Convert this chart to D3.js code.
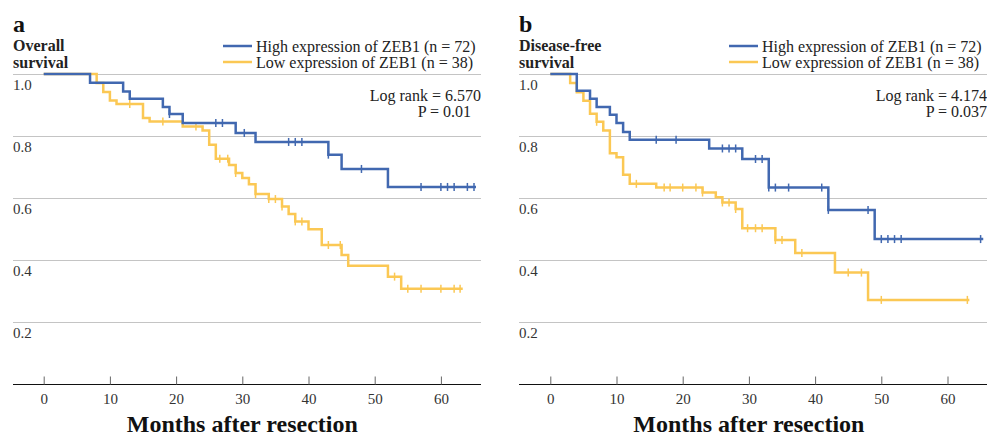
<!DOCTYPE html>
<html>
<head>
<meta charset="utf-8">
<script src="https://cdn.jsdelivr.net/npm/d3@7"></script>
<style>
  html, body { margin: 0; padding: 0; background: #fff; }
  svg { display: block; font-family: "Liberation Serif", "Times New Roman", serif; }
</style>
</head>
<body>
<svg id="chart" width="987" height="438"></svg>
<script>
// --- data ---
var timeTicks = [0, 10, 20, 30, 40, 50, 60];
var survTicks = [0.2, 0.4, 0.6, 0.8, 1.0];
var seriesNames = ["High expression of ZEB1 (n = 72)", "Low expression of ZEB1 (n = 38)"];

// Overall survival: [month, survival after drop]
var osHighSteps = [[7, 0.972], [12, 0.944], [13, 0.92], [18, 0.894], [19, 0.871], [21, 0.842],
  [29, 0.81], [32, 0.781], [43, 0.74], [45, 0.694], [52, 0.636]];
var osHighCensor = [19, 26, 27, 30.3, 37, 38, 39, 43, 48, 57, 60, 61, 62, 64, 65];
var osHighEnd = 65.3;

var osLowSteps = [[8, 0.971], [9, 0.942], [10, 0.915], [11, 0.903], [15, 0.858], [16, 0.847],
  [21, 0.831], [24, 0.818], [25, 0.772], [26, 0.727], [28, 0.707], [29, 0.681], [30, 0.665],
  [31, 0.645], [32, 0.613], [34, 0.597], [36, 0.573], [37, 0.549], [38, 0.525], [40, 0.5],
  [42, 0.449], [45, 0.417], [46, 0.382], [52, 0.347], [54, 0.308]];
var osLowCensor = [13, 18, 23, 26.6, 27.8, 29, 32, 34, 35, 36, 38, 39, 43, 44.8, 53, 55, 57, 60, 62, 62.9];
var osLowEnd = 63.3;

// Disease-free survival
var dfsHighSteps = [[4, 0.946], [6, 0.92], [7, 0.894], [9, 0.869], [10, 0.842], [11, 0.813],
  [12, 0.788], [24, 0.76], [29, 0.726], [33, 0.634], [42, 0.562], [49, 0.468]];
var dfsHighCensor = [16, 19, 26, 27, 28, 31, 32, 33, 34, 36, 41, 42, 48, 50, 51, 52, 53, 65];
var dfsHighEnd = 65.4;

var dfsLowSteps = [[3, 0.971], [4, 0.941], [5, 0.914], [6, 0.872], [7, 0.846], [8, 0.818],
  [9, 0.745], [10, 0.732], [11, 0.675], [12, 0.646], [16, 0.634], [23, 0.618], [25, 0.603],
  [26, 0.586], [28, 0.565], [29, 0.503], [34, 0.465], [37, 0.423], [43, 0.36], [48, 0.272]];
var dfsLowCensor = [7, 13, 17.2, 18.1, 20, 22, 23, 26, 27, 28, 29.8, 31, 32, 34, 35, 38, 45, 47, 50, 63];
var dfsLowEnd = 63.3;

var logRanks = ["Log rank = 6.570", "Log rank = 4.174"];
var pValues = ["P = 0.01", "P = 0.037"];

// --- styling ---
var colorHigh = "#4168b0";
var colorLow = "#fbc854";

var svg = d3.select("#chart");

var panels = [
  { letter: "a", title: ["Overall", "survival"], left: 13, zeroX: 43.7,
    high: { steps: osHighSteps, censor: osHighCensor, end: osHighEnd },
    low: { steps: osLowSteps, censor: osLowCensor, end: osLowEnd },
    logRank: logRanks[0], p: pValues[0], pShift: 10 },
  { letter: "b", title: ["Disease-free", "survival"], left: 519, zeroX: 550.3,
    high: { steps: dfsHighSteps, censor: dfsHighCensor, end: dfsHighEnd },
    low: { steps: dfsLowSteps, censor: dfsLowCensor, end: dfsLowEnd },
    logRank: logRanks[1], p: pValues[1], pShift: 0 }
];

var panelW = 468;
var pxPerMonth = 6.62;
var y = d3.scaleLinear().domain([0, 1]).range([384.3, 74]);

panels.forEach(function(p) {
  var right = p.left + panelW;
  var x = d3.scaleLinear()
    .domain([(p.left - p.zeroX) / pxPerMonth, (right - p.zeroX) / pxPerMonth])
    .range([p.left, right]);

  var g = svg.append("g");

  // gridlines
  g.selectAll("line.grid")
    .data(survTicks)
    .enter().append("line")
    .attr("x1", p.left).attr("x2", right)
    .attr("y1", d => Math.round(y(d)) + 0.5).attr("y2", d => Math.round(y(d)) + 0.5)
    .attr("stroke", "#c4c4c4").attr("stroke-width", 1);

  // y tick labels sit under each gridline
  g.selectAll("text.ylab")
    .data(survTicks)
    .enter().append("text")
    .attr("x", p.left).attr("y", d => y(d) + 16)
    .attr("font-size", 15).attr("fill", "#333")
    .text(d => d3.format(".1f")(d));

  // x axis
  var xAxis = d3.axisBottom(x).tickValues(timeTicks).tickSize(0).tickPadding(0);
  var ax = g.append("g").attr("transform", "translate(0," + (Math.round(y(0)) + 0.5) + ")").call(xAxis);
  ax.select(".domain").attr("stroke", "#111").attr("d", "M" + p.left + ",0H" + right);
  ax.selectAll(".tick text")
    .attr("y", 19).attr("dy", 0)
    .attr("font-family", "Liberation Serif, serif").attr("font-size", 15).attr("fill", "#333");
  ax.selectAll(".tick").append("line")
    .attr("y1", 0).attr("y2", -8).attr("stroke", "#666");

  // curves
  var line = d3.line().x(d => x(d[0])).y(d => y(d[1])).curve(d3.curveStepAfter);

  function survAt(steps, t) {
    var s = 1;
    steps.forEach(function(st) { if (st[0] <= t) s = st[1]; });
    return s;
  }

  function drawCurve(c, color) {
    var pts = [[0, 1]].concat(c.steps);
    pts.push([c.end, c.steps[c.steps.length - 1][1]]);
    g.append("path").datum(pts)
      .attr("d", line)
      .attr("fill", "none").attr("stroke", color).attr("stroke-width", 2.5);
    g.selectAll(null)
      .data(c.censor)
      .enter().append("line")
      .attr("x1", d => x(d)).attr("x2", d => x(d))
      .attr("y1", d => y(survAt(c.steps, d)) - 4)
      .attr("y2", d => y(survAt(c.steps, d)) + 4)
      .attr("stroke", color).attr("stroke-width", 1.5);
  }
  drawCurve(p.low, colorLow);
  drawCurve(p.high, colorHigh);

  // panel letter and title
  g.append("text").attr("x", p.left).attr("y", 32)
    .attr("font-size", 24).attr("font-weight", "bold").attr("fill", "#111").text(p.letter);
  p.title.forEach(function(t, i) {
    g.append("text").attr("x", p.left).attr("y", 51 + i * 17)
      .attr("font-size", 16).attr("font-weight", "bold").attr("fill", "#222").text(t);
  });

  // legend
  var legendX = p.left + 210;
  [colorHigh, colorLow].forEach(function(c, i) {
    var ly = 46 + i * 16;
    g.append("line").attr("x1", legendX).attr("x2", legendX + 29)
      .attr("y1", ly).attr("y2", ly).attr("stroke", c).attr("stroke-width", 2.5);
    g.append("text").attr("x", legendX + 33).attr("y", ly + 6)
      .attr("font-size", 16).attr("fill", "#222").text(seriesNames[i]);
  });

  // statistics
  g.append("text").attr("x", right).attr("y", 101).attr("text-anchor", "end")
    .attr("font-size", 16).attr("fill", "#222").text(p.logRank);
  g.append("text").attr("x", right - p.pShift).attr("y", 117).attr("text-anchor", "end")
    .attr("font-size", 16).attr("fill", "#222").text(p.p);

  // x axis title
  g.append("text").attr("x", x(30)).attr("y", 432).attr("text-anchor", "middle")
    .attr("font-size", 24).attr("font-weight", "bold").attr("fill", "#111")
    .text("Months after resection");
});
</script>
</body>
</html>
